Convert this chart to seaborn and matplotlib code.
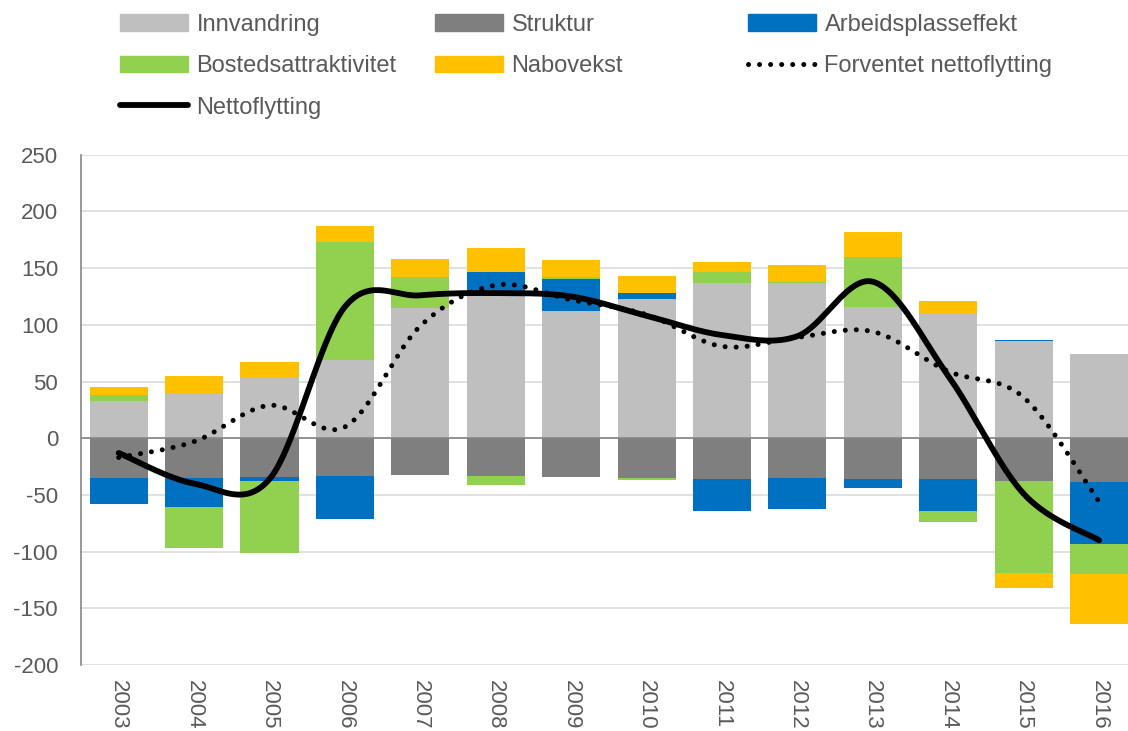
import numpy as np
import pandas as pd
import matplotlib
matplotlib.use('Agg')
import matplotlib.pyplot as plt
import seaborn as sns
from matplotlib.lines import Line2D
from matplotlib.patches import Patch

years = [2003, 2004, 2005, 2006, 2007, 2008, 2009, 2010, 2011, 2012, 2013, 2014, 2015, 2016]
innvandring = [33, 39, 53, 69, 115, 127, 112, 123, 137, 137, 116, 110, 86, 74]
struktur = [-35, -35, -34, -33, -32, -33, -34, -35, -36, -35, -36, -36, -38, -39]
arbeidsplass = [-23, -26, -4, -38, 0, 20, 28, 5, -28, -27, -8, -28, 1, -54]
bosted = [5, -36, -63, 104, 27, -8, 2, -2, 10, 1, 44, -10, -81, -27]
nabovekst = [7, 16, 14, 14, 16, 21, 15, 15, 8, 15, 22, 11, -13, -44]
forventet = [-17, -3, 29, 10, 99, 135, 122, 109, 81, 89, 94, 59, 36, -56]
netto = [-13, -40, -36, 116, 126, 128, 125, 108, 91, 90, 138, 55, -49, -90]

series_names = ['Innvandring', 'Struktur', 'Arbeidsplasseffekt', 'Bostedsattraktivitet', 'Nabovekst']
series_vals = [innvandring, struktur, arbeidsplass, bosted, nabovekst]
colors = ['#BFBFBF', '#7F7F7F', '#0070C0', '#92D050', '#FFC000']
txt = '#595959'

sns.set_style('white')
plt.rcParams['font.family'] = ['Liberation Sans', 'DejaVu Sans']
plt.rcParams['axes.unicode_minus'] = False

fig = plt.figure(figsize=(11.28, 7.31), dpi=100)
ax = fig.add_axes([0.0718, 0.0903, 0.936, 0.698])

# stacked bars, positives and negatives stacked separately
pos = np.zeros(len(years))
neg = np.zeros(len(years))
for name, vals, col in zip(series_names, series_vals, colors):
    v = np.array(vals, dtype=float)
    bottom = np.where(v >= 0, pos, neg)
    df = pd.DataFrame({'year': years, 'val': v})
    sns.barplot(data=df, x='year', y='val', native_scale=True, bottom=bottom,
                color=col, width=0.77, errorbar=None, linewidth=0,
                saturation=1, ax=ax)
    pos = pos + np.where(v >= 0, v, 0)
    neg = neg + np.where(v < 0, v, 0)


def smooth(xs, ys, n=40):
    # excel style smoothed line (bezier through the points)
    xs = np.asarray(xs, float)
    ys = np.asarray(ys, float)
    px = np.concatenate([[xs[0]], xs, [xs[-1]]])
    py = np.concatenate([[ys[0]], ys, [ys[-1]]])
    outx, outy = [], []
    t = np.linspace(0, 1, n)
    for i in range(len(xs) - 1):
        x0, x3 = px[i + 1], px[i + 2]
        y0, y3 = py[i + 1], py[i + 2]
        x1 = x0 + (px[i + 2] - px[i]) / 6
        y1 = y0 + (py[i + 2] - py[i]) / 6
        x2 = x3 - (px[i + 3] - px[i + 1]) / 6
        y2 = y3 - (py[i + 3] - py[i + 1]) / 6
        bx = (1-t)**3*x0 + 3*(1-t)**2*t*x1 + 3*(1-t)*t**2*x2 + t**3*x3
        by = (1-t)**3*y0 + 3*(1-t)**2*t*y1 + 3*(1-t)*t**2*y2 + t**3*y3
        outx.extend(bx)
        outy.extend(by)
    return np.array(outx), np.array(outy)


fx, fy = smooth(years, forventet)
ax.plot(fx, fy, color='black', lw=3.6, linestyle=(0, (0.01, 2.2)),
        dash_capstyle='round', zorder=5)
nx, ny = smooth(years, netto)
ax.plot(nx, ny, color='black', lw=4.2, solid_capstyle='round', zorder=6)

ax.set_xlim(2002.5, 2016.5)
ax.set_ylim(-200, 250)
ax.set_yticks(range(-200, 251, 50))
ax.set_xticks(years)
ax.set_xticklabels([str(y) for y in years], rotation=-90)
ax.set_xlabel('')
ax.set_ylabel('')
ax.tick_params(axis='both', length=0, labelsize=16, colors=txt)
ax.tick_params(axis='y', pad=16.5)
ax.tick_params(axis='x', pad=11)
ax.grid(axis='y', color='#D9D9D9', lw=1.1)
ax.set_axisbelow(True)
ax.axhline(0, color='#868686', lw=1.2, zorder=4)
for s in ['top', 'right', 'bottom']:
    ax.spines[s].set_visible(False)
ax.spines['left'].set_color('#868686')
ax.spines['left'].set_linewidth(1.2)

# legend, three columns placed separately
h_innv = Patch(color=colors[0])
h_str = Patch(color=colors[1])
h_arb = Patch(color=colors[2])
h_bos = Patch(color=colors[3])
h_nab = Patch(color=colors[4])
h_forv = Line2D([], [], color='black', lw=3.6, linestyle=(0, (0.01, 2.2)), dash_capstyle='round')
h_netto = Line2D([], [], color='black', lw=4.2)

cols = [
    ([h_innv, h_bos, h_netto], ['Innvandring', 'Bostedsattraktivitet', 'Nettoflytting'], 120),
    ([h_str, h_nab], ['Struktur', 'Nabovekst'], 435),
    ([h_arb, h_forv], ['Arbeidsplasseffekt', 'Forventet nettoflytting'], 748),
]
for hs, ls, xpx in cols:
    fig.legend(hs, ls, loc='upper left', bbox_to_anchor=(xpx / 1128, 1 - 14 / 731),
               frameon=False, fontsize=17, labelcolor=txt, handlelength=2.9,
               handletextpad=0.34, labelspacing=0.82, borderpad=0, borderaxespad=0)

fig.savefig('out.png', dpi=100)
